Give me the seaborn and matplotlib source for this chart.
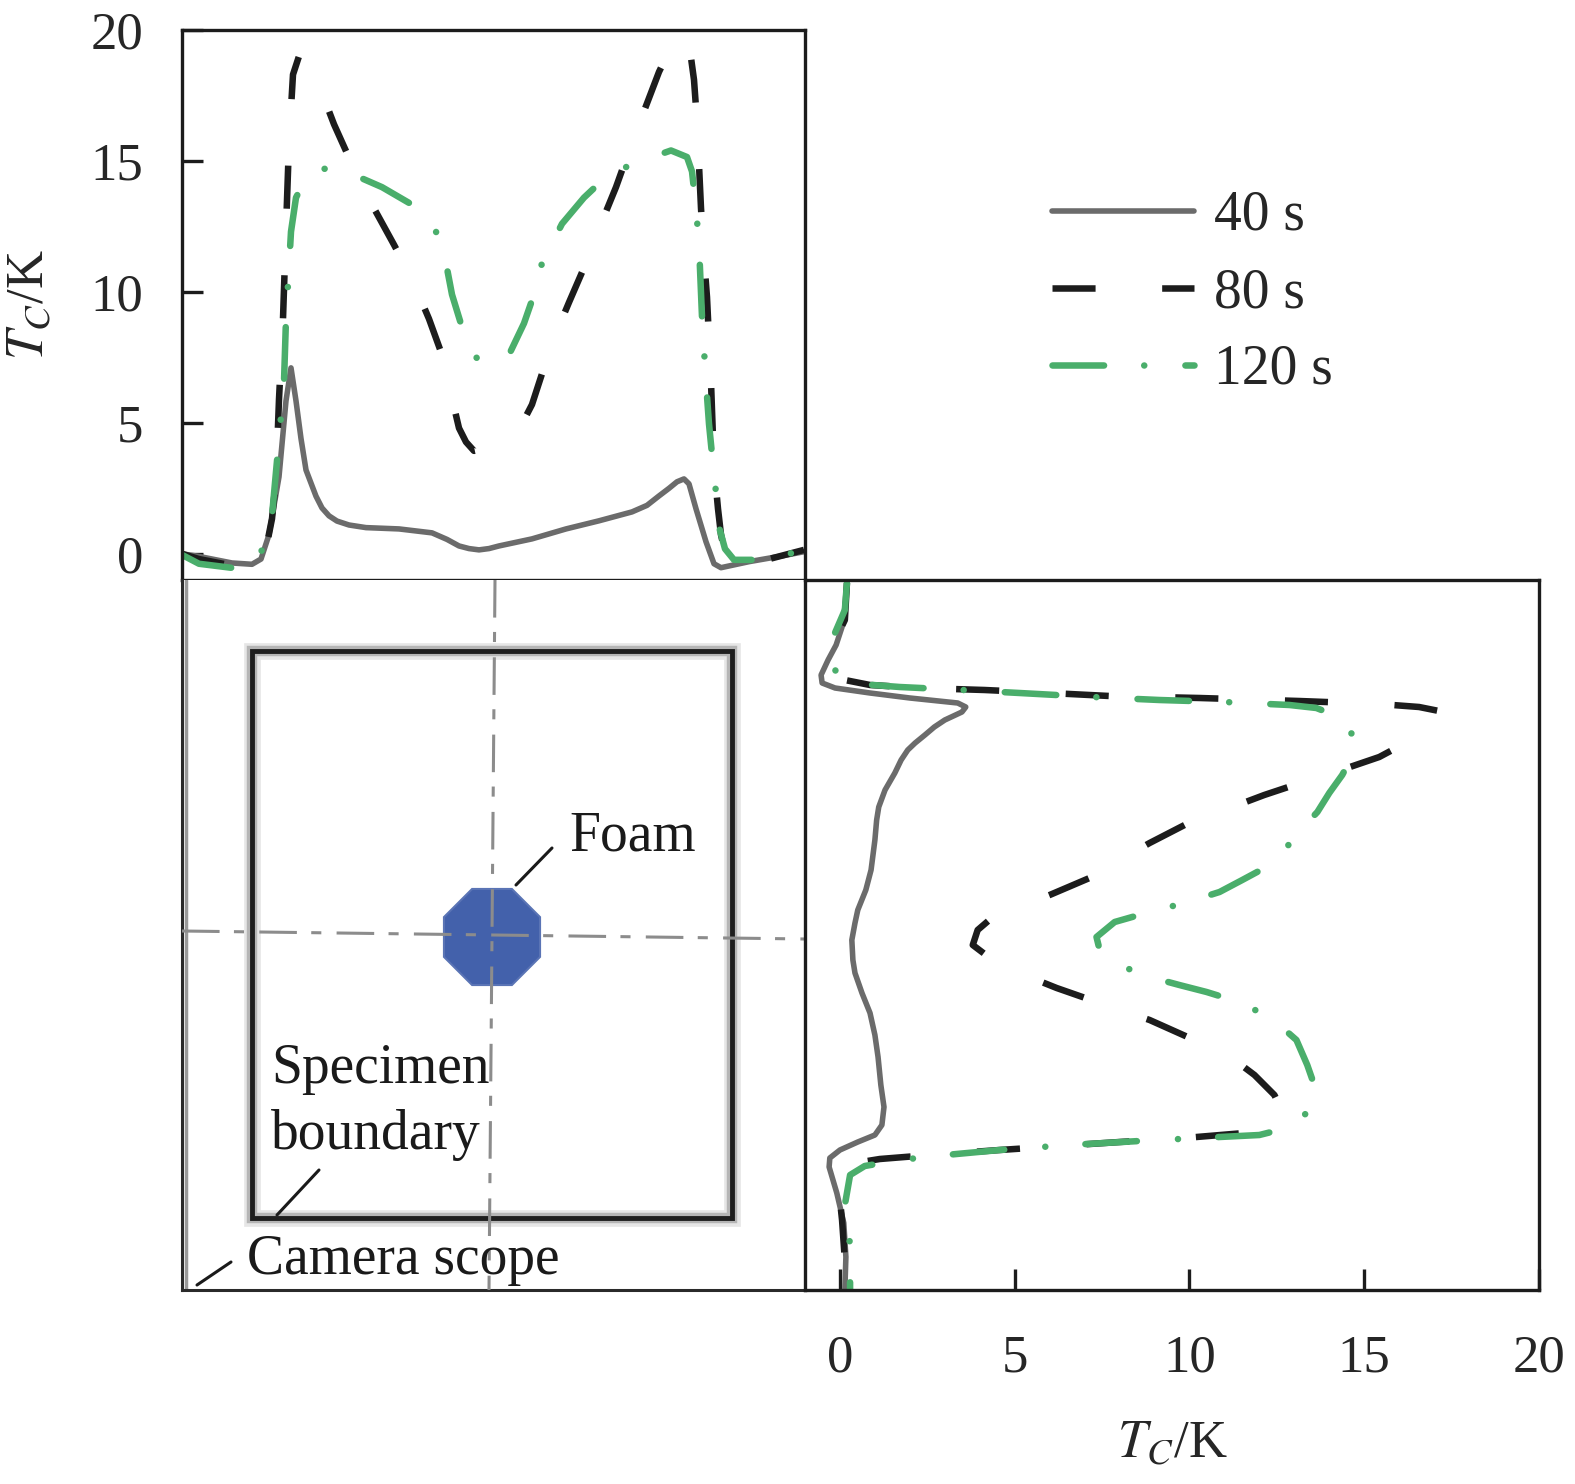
import numpy as np
import pandas as pd
import matplotlib
matplotlib.use("Agg")
import matplotlib.pyplot as plt
import seaborn as sns
from matplotlib.patches import Rectangle, RegularPolygon

sns.set_style("white")
plt.rcParams["font.family"] = ["Liberation Serif", "DejaVu Serif"]
plt.rcParams["mathtext.fontset"] = "stix"

# ---------------- data ----------------
series_labels = ["40 s", "80 s", "120 s"]
series_colors = ["#6b6b6b", "#1c1c1c", "#4aae6b"]

# top panel: position along horizontal line (mm) -> T_C (K)
top_x_40 = [0.0, 1.7, 5.0, 7.0, 7.9, 8.7, 9.7, 10.4, 10.9, 11.4, 11.9, 12.4, 13.0, 13.4, 14.0,
            14.7, 15.5, 16.7, 18.4, 21.7, 25.0, 26.5, 27.7, 28.7, 29.7, 30.7, 31.7, 35.0,
            38.4, 41.7, 45.0, 46.5, 47.7, 48.7, 49.5, 50.2, 50.7, 51.4, 52.4, 53.2, 53.9,
            56.7, 60.0, 62.2]
top_t_40 = [0.0, -0.1, -0.35, -0.4, -0.2, 0.73, 2.94, 5.84, 7.1, 5.84, 4.4, 3.2, 2.6, 2.2, 1.75,
            1.45, 1.25, 1.1, 1.0, 0.95, 0.8, 0.55, 0.3, 0.2, 0.15, 0.2, 0.3, 0.57,
            0.95, 1.26, 1.6, 1.85, 2.21, 2.5, 2.75, 2.86, 2.67, 1.72, 0.46, -0.38, -0.53,
            -0.3, -0.08, 0.08]

top_x_80 = [0.0, 1.7, 5.7, 7.0, 8.2, 9.0, 9.4, 9.7, 10.1, 10.4, 10.7, 11.1, 11.7, 12.5,
            13.7, 15.2, 17.2, 18.9, 21.2, 23.0, 24.7, 26.0, 26.9, 27.7, 28.4, 29.2,
            30.7, 32.7, 34.0, 35.0, 37.0, 38.7, 40.4, 41.9, 43.4, 44.9, 46.4, 47.7,
            48.9, 50.0, 50.7, 51.2, 51.5, 51.9, 52.2, 52.5, 52.9, 53.2, 53.6, 53.9,
            54.5, 55.7, 58.7, 62.2]
top_t_80 = [0.0, -0.2, -0.5, -0.57, -0.2, 1.34, 2.86, 5.9, 8.97, 12.4, 15.7, 18.3, 19.0, 18.9,
            17.9, 16.4, 14.7, 13.4, 11.8, 10.5, 8.97, 7.6, 6.1, 4.8, 4.27, 3.93,
            4.05, 4.39, 4.96, 5.7, 8.05, 9.6, 11.1, 12.6, 14.0, 15.6, 17.1, 18.4,
            19.35, 19.8, 19.5, 18.1, 16.5, 13.2, 11.3, 9.8, 6.56, 3.36, 1.72, 0.73,
            -0.3, -0.38, -0.2, 0.15]

top_x_120 = [0.0, 1.7, 5.7, 7.2, 8.0, 9.0, 9.7, 10.2, 10.4, 10.7, 10.9, 11.4, 12.2, 13.2,
             15.0, 17.0, 20.0, 22.7, 24.0, 25.4, 26.4, 27.0, 28.2, 29.2, 30.0, 31.4,
             32.7, 34.2, 35.2, 36.0, 38.0, 40.2, 42.7, 45.9, 48.9, 50.5, 51.0, 51.4,
             51.7, 52.0, 52.2, 52.4, 52.7, 53.0, 53.4, 53.7, 54.3, 55.2, 58.4, 62.2]
top_t_120 = [-0.04, -0.38, -0.57, -0.46, 0.15, 1.45, 4.39, 6.56, 8.97, 10.95, 12.3, 13.6, 14.2, 14.6,
             14.77, 14.5, 14.0, 13.4, 13.0, 12.3, 11.1, 9.9, 8.4, 7.6, 7.25, 7.37,
             7.6, 8.8, 9.9, 11.1, 12.6, 13.6, 14.5, 15.0, 15.4, 15.15, 14.6, 13.2,
             11.8, 9.05, 7.8, 6.56, 4.96, 3.8, 2.33, 1.03, 0.19, -0.23, -0.23, 0.15]

# right panel: position along vertical line (mm, from top) -> T_C (K)
side_p_40 = [0.3, 2.0, 4.7, 6.5, 8.0, 9.5, 10.3, 10.8, 11.3, 11.8, 12.3, 12.7, 13.2, 14.0,
             14.7, 15.5, 16.3, 17.0, 18.0, 19.3, 21.0, 22.7, 24.0, 26.0, 29.0, 31.0, 33.0,
             34.3, 36.0, 38.0, 39.3, 41.3, 43.3, 45.5, 47.7, 50.5, 52.7, 54.5, 55.5,
             56.2, 57.0, 57.8, 58.7, 60.0, 61.3, 64.3, 67.7, 71.0]
side_t_40 = [0.2, 0.17, 0.06, -0.11, -0.34, -0.54, -0.51, -0.14, 0.86, 2.0, 3.37, 3.6, 3.49, 3.0,
             2.7, 2.43, 2.15, 1.94, 1.75, 1.57, 1.29, 1.11, 1.05, 1.0, 0.89, 0.74, 0.51,
             0.43, 0.34, 0.37, 0.43, 0.63, 0.86, 1.0, 1.09, 1.17, 1.26, 1.2, 1.0,
             0.51, 0.0, -0.29, -0.31, -0.2, -0.09, 0.11, 0.17, 0.14]

side_p_80 = [0.3, 4.0, 6.5, 8.0, 9.2, 10.0, 10.5, 10.8, 11.0, 11.3, 11.6, 11.8, 12.1, 12.4,
             12.7, 13.1, 13.8, 14.8, 16.0, 17.7, 19.0, 20.0, 21.5, 23.0, 24.5, 26.3,
             28.0, 29.8, 31.5, 32.8, 33.8, 35.0, 36.5, 37.8, 39.2, 40.8, 42.3, 44.0,
             46.0, 48.0, 49.5, 51.5, 53.2, 54.5, 55.3, 55.8, 56.2, 56.6, 57.0, 57.5,
             57.9, 58.3, 59.2, 61.0, 64.0, 68.0, 71.0]
side_t_80 = [0.2, 0.14, -0.2, -0.29, -0.23, 0.14, 0.86, 2.29, 4.14, 6.0, 7.71, 10.29, 13.14, 15.43,
             16.57, 17.14, 17.09, 16.8, 16.34, 15.43, 14.34, 13.43, 12.14, 11.0, 9.86, 8.86,
             8.0, 7.14, 6.0, 5.06, 4.34, 3.94, 3.8, 4.29, 5.06, 6.2, 7.43, 8.86,
             10.14, 11.29, 11.86, 12.43, 12.66, 12.29, 11.57, 9.86, 8.0, 6.29, 4.57, 2.57,
             1.14, 0.43, 0.06, -0.03, 0.06, 0.14, 0.17]

side_p_120 = [0.3, 3.0, 6.0, 8.0, 9.5, 10.4, 10.7, 11.0, 11.3, 11.7, 12.0, 12.2, 12.5, 12.8,
              13.5, 14.6, 16.0, 17.8, 19.5, 21.3, 23.2, 24.8, 26.2, 27.5, 28.7, 30.0,
              31.2, 32.3, 33.2, 34.2, 35.7, 37.0, 38.5, 39.7, 40.5, 41.2, 42.3, 43.5,
              44.5, 46.0, 48.5, 50.5, 52.1, 53.5, 54.8, 55.5, 55.8, 56.1, 56.5, 57.0,
              57.5, 58.0, 58.6, 59.5, 62.5, 66.5, 71.0]
side_t_120 = [0.2, 0.14, -0.23, -0.29, -0.06, 0.57, 1.71, 3.51, 5.14, 7.23, 9.14, 11.0, 12.86, 13.63,
              14.14, 14.57, 14.69, 14.63, 14.37, 14.0, 13.66, 13.23, 12.91, 12.57, 12.2, 11.51,
              10.86, 9.86, 8.86, 7.86, 7.34, 7.43, 7.97, 8.86, 9.71, 10.49, 11.51, 12.14,
              12.57, 13.06, 13.37, 13.57, 13.63, 13.29, 12.8, 12.0, 10.29, 8.57, 6.57, 4.57,
              3.03, 1.71, 0.71, 0.29, 0.14, 0.29, 0.29]

t_ticks = [0, 5, 10, 15, 20]
t_lim = (-1, 20)
pos_x_lim = (0, 62.3)
pos_y_lim = (71, 0)

# schematic geometry (mm)
specimen_box = [7.0, 7.1, 48.0, 56.7]          # x0, y0, width, height
foam_center = (31.0, 35.7)
foam_radius = 5.2
hline_x = [0.0, 62.3]
hline_y = [35.1, 35.9]
vline_x = [31.3, 30.7]
vline_y = [0.0, 71.0]
foam_leader = ([33.4, 37.0], [30.5, 26.8])
spec_leader = ([9.5, 13.7], [63.5, 59.0])
cam_leader = ([1.5, 4.9], [70.5, 68.2])
label_foam = ("Foam", 38.7, 25.6)
label_spec = ("Specimen", 8.9, 48.9)
label_bound = ("boundary", 8.9, 55.5)
label_cam = ("Camera scope", 6.5, 68.0)

# ---------------- figure ----------------
W, H = 1575, 1484
fig = plt.figure(figsize=(W / 100, H / 100), dpi=100)

L, M, R = 182, 805, 1539
TOP, MID, BOT = 30, 580, 1290


def axes_px(x0, x1, y0, y1):
    return fig.add_axes([x0 / W, 1 - y1 / H, (x1 - x0) / W, (y1 - y0) / H])


ax_top = axes_px(L, M, TOP, MID)
ax_sch = axes_px(L, M, MID, BOT)
ax_side = axes_px(M, R, MID, BOT)

FS = 38
FS_TXT = 40
LW = 4.7
styles = {
    "40 s": dict(linestyle="-", linewidth=4.0, solid_capstyle="round", solid_joinstyle="round"),
    "80 s": dict(linestyle=(0, (6.6, 10.2)), linewidth=LW, dash_capstyle="butt"),
    "120 s": dict(linestyle=(0, (7.9, 6.15, 0.01, 6.3)), linewidth=LW, dash_capstyle="round",
                  dash_joinstyle="round"),
}

top_data = [(top_x_40, top_t_40), (top_x_80, top_t_80), (top_x_120, top_t_120)]
side_data = [(side_p_40, side_t_40), (side_p_80, side_t_80), (side_p_120, side_t_120)]

for lab, col, (xs, ts) in zip(series_labels, series_colors, top_data):
    df = pd.DataFrame({"pos": xs, "T": ts})
    sns.lineplot(data=df, x="pos", y="T", ax=ax_top, color=col, label=lab,
                 estimator=None, **styles[lab])

for lab, col, (ps, ts) in zip(series_labels, series_colors, side_data):
    df = pd.DataFrame({"pos": ps, "T": ts})
    sns.lineplot(data=df, x="T", y="pos", ax=ax_side, color=col, orient="y",
                 estimator=None, legend=False, **styles[lab])

# top axes
ax_top.set_xlim(*pos_x_lim)
ax_top.set_ylim(*t_lim)
ax_top.set_yticks(t_ticks)
ax_top.set_xticks([])
ax_top.set_xlabel("")
ax_top.set_ylabel(r"$T_C$/K", fontsize=FS)
ax_top.yaxis.set_label_coords(-0.205, 0.5)
ax_top.tick_params(axis="y", left=True, direction="in", length=15, width=2.4, pad=28,
                   labelsize=FS, color="#1c1c1c")
handles, labels = ax_top.get_legend_handles_labels()
ax_top.get_legend().remove()

# side axes
ax_side.set_xlim(*t_lim)
ax_side.set_ylim(*pos_y_lim)
ax_side.set_xticks(t_ticks)
ax_side.set_yticks([])
ax_side.set_ylabel("")
ax_side.set_xlabel(r"$T_C$/K", fontsize=FS)
ax_side.xaxis.set_label_coords(0.5, -0.183)
ax_side.tick_params(axis="x", bottom=True, direction="in", length=15, width=2.4, pad=32,
                    labelsize=FS, color="#1c1c1c")

for ax in (ax_top, ax_side):
    for sp in ax.spines.values():
        sp.set_color("#1c1c1c")
        sp.set_linewidth(2.4)
    ax.set_facecolor("none")

# schematic
ax_sch.set_xlim(*pos_x_lim)
ax_sch.set_ylim(*pos_y_lim)
ax_sch.set_xticks([])
ax_sch.set_yticks([])
for name, sp in ax_sch.spines.items():
    sp.set_color("#2a2a2a")
    sp.set_linewidth(2.2)
ax_sch.spines["top"].set_visible(False)
ax_sch.spines["right"].set_visible(False)
ax_sch.axvline(0.35, color="#9a9a9a", lw=2.5, zorder=1)

x0, y0, w, h = specimen_box
ax_sch.add_patch(Rectangle((x0, y0), w, h, fill=False, ec="#e6e6e6", lw=12, zorder=2))
ax_sch.add_patch(Rectangle((x0, y0), w, h, fill=False, ec="#b5b5b5", lw=7.5, zorder=2))
ax_sch.add_patch(Rectangle((x0, y0), w, h, fill=False, ec="#1e1e1e", lw=3.5, zorder=3))

ax_sch.add_patch(RegularPolygon(foam_center, numVertices=8, radius=foam_radius,
                                orientation=np.pi / 8, fc="#4361ab", ec="#5a74b5",
                                lw=1.5, zorder=4))

center_style = dict(color="#8c8c8c", lw=2.2, linestyle=(0, (12.3, 4.7, 3.3, 5.0)), zorder=5)
ax_sch.plot(hline_x, hline_y, **center_style)
ax_sch.plot(vline_x, vline_y, **center_style)

for lx, ly in (foam_leader, spec_leader, cam_leader):
    ax_sch.plot(lx, ly, color="#1a1a1a", lw=2.2, zorder=6)

for txt, tx, ty in (label_foam, label_spec, label_bound, label_cam):
    ax_sch.text(tx, ty, txt, fontsize=FS_TXT, ha="left", va="center", color="#1a1a1a", zorder=7)

# legend
fig.legend(handles, labels, loc="upper left",
           bbox_to_anchor=(1052 / W, 1 - 190 / H), frameon=False, fontsize=FS_TXT,
           handlelength=2.55, handletextpad=0.36, labelspacing=0.45,
           borderpad=0, borderaxespad=0)

fig.savefig("out.png", dpi=100, facecolor="white")
